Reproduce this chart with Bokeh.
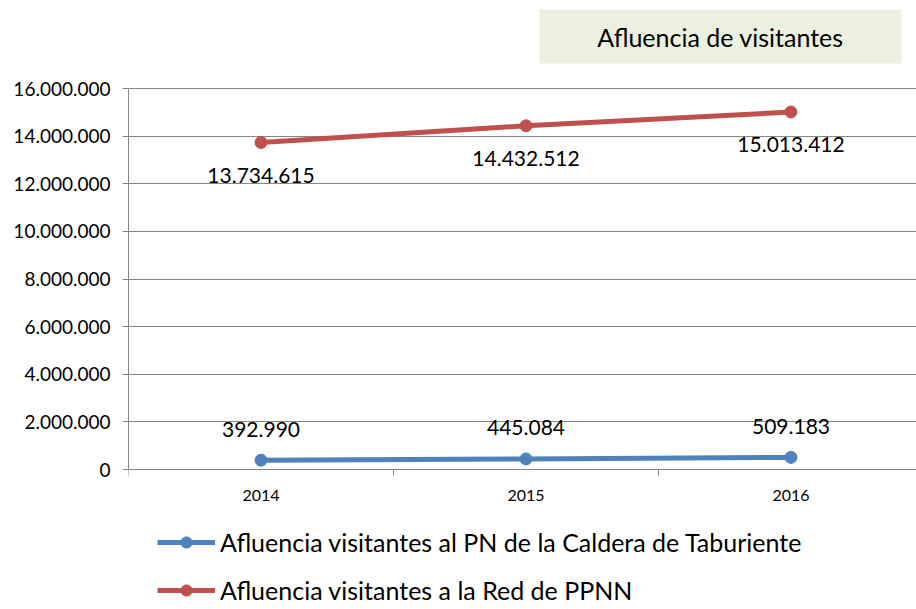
from bokeh.plotting import figure
from bokeh.models import (Range1d, FixedTicker, Legend, LegendItem, Label, ColumnDataSource)
from bokeh.core.properties import value
from bokeh.embed import file_html
from bokeh.resources import INLINE

# ---- data ----
years = ["2014", "2015", "2016"]
caldera = [392990, 445084, 509183]
red_ppnn = [13734615, 14432512, 15013412]
y_ticks = [0, 2000000, 4000000, 6000000, 8000000, 10000000, 12000000, 14000000, 16000000]
y_tick_labels = ["0", "2.000.000", "4.000.000", "6.000.000", "8.000.000",
                 "10.000.000", "12.000.000", "14.000.000", "16.000.000"]
name_caldera = "Afluencia visitantes al PN de la Caldera de Taburiente"
name_red = "Afluencia visitantes a la Red de PPNN"
title_text = "Afluencia de visitantes"

BLUE = "#4F81BD"
RED = "#C0504D"
GRID = "#868686"
FONT = "Lato"

# ---- layout (pixels) ----
W, H = 916, 609
LEFT = 128            # plot area left edge
TOP_PX = 88           # pixel row of the top gridline
ZERO_PX = 469         # pixel row of the zero line
CAT_W = 265.0         # width of one category, px
YMAX = y_ticks[-1]
per_px = YMAX / (ZERO_PX - TOP_PX)

def fmt(v):
    return f"{v:,}".replace(",", ".")

xi = list(range(len(years)))
src_c = ColumnDataSource(dict(x=xi, y=caldera, lab=[fmt(v) for v in caldera]))
src_r = ColumnDataSource(dict(x=xi, y=red_ppnn, lab=[fmt(v) for v in red_ppnn]))

p = figure(width=W, height=H, output_backend="svg", toolbar_location=None,
           x_range=Range1d(-0.5, -0.5 + (W - LEFT) / CAT_W),
           y_range=Range1d(-(H - ZERO_PX) * per_px, YMAX + TOP_PX * per_px),
           min_border_left=LEFT, min_border_right=0, min_border_top=0, min_border_bottom=0)
p.outline_line_color = None
p.background_fill_color = "white"
p.border_fill_color = "white"

# axes
p.xaxis.fixed_location = 0
p.xaxis.ticker = FixedTicker(ticks=xi, minor_ticks=[i - 0.5 for i in range(len(years) + 1)])
p.xaxis.major_label_overrides = {i: y for i, y in zip(xi, years)}
p.xaxis.major_tick_line_color = None
p.xaxis.major_tick_out = 0
p.xaxis.major_tick_in = 0
p.xaxis.minor_tick_line_color = GRID
p.xaxis.minor_tick_out = 6
p.xaxis.minor_tick_in = 0
p.xaxis.axis_line_color = GRID
p.xaxis.major_label_standoff = 14
p.xaxis.major_label_text_font = FONT
p.xaxis.major_label_text_font_size = "16px"
p.xaxis.major_label_text_color = "black"

p.yaxis.bounds = (0, YMAX)
p.yaxis.ticker = FixedTicker(ticks=y_ticks)
p.yaxis.major_label_overrides = dict(zip(y_ticks, y_tick_labels))
p.yaxis.minor_tick_line_color = None
p.yaxis.major_tick_line_color = GRID
p.yaxis.major_tick_out = 6
p.yaxis.major_tick_in = 0
p.yaxis.axis_line_color = GRID
p.yaxis.major_label_standoff = 12
p.yaxis.major_label_text_font = FONT
p.yaxis.major_label_text_font_size = "19px"
p.yaxis.major_label_text_color = "black"

p.xgrid.grid_line_color = None
p.ygrid.grid_line_color = GRID
p.ygrid.grid_line_width = 1

# series
lc = p.line("x", "y", source=src_c, line_color=BLUE, line_width=5)
sc = p.scatter("x", "y", source=src_c, size=12, fill_color=BLUE, line_color=BLUE)
lr = p.line("x", "y", source=src_r, line_color=RED, line_width=5)
sr = p.scatter("x", "y", source=src_r, size=12, fill_color=RED, line_color=RED)

# data labels
p.text("x", "y", text="lab", source=src_r, y_offset=33, text_align="center",
       text_baseline="middle", text_font=value(FONT), text_font_size="21px", text_color="black")
p.text("x", "y", text="lab", source=src_c, y_offset=-31, text_align="center",
       text_baseline="middle", text_font=value(FONT), text_font_size="21px", text_color="black")

# title box (screen units, relative to plot area)
title = Label(x=592, y=H - 36, x_units="screen", y_units="screen", text=title_text,
              text_align="center", text_baseline="middle", text_font=FONT,
              text_font_size="25px", text_color="black",
              background_fill_color="#EBF1DE", padding=(58, 12))
p.add_layout(title)

legend = Legend(items=[LegendItem(label=name_caldera, renderers=[lc, sc]),
                       LegendItem(label=name_red, renderers=[lr, sr])],
                location=(29, 4), orientation="vertical",
                glyph_width=58, glyph_height=28, label_height=28, label_standoff=5,
                spacing=18, padding=0, margin=0,
                label_text_font=FONT, label_text_font_size="25px", label_text_color="black",
                border_line_color=None, background_fill_alpha=0)
p.add_layout(legend, "center")

open("out.html", "w").write(file_html(p, INLINE))
